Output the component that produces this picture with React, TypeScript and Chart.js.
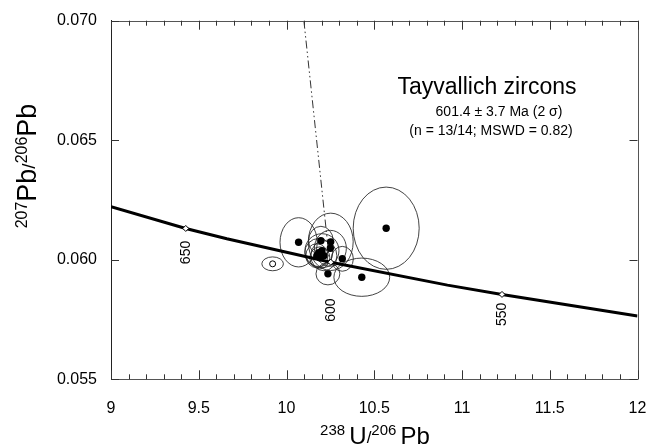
import React, { useEffect, useRef } from 'react';
import { Chart, registerables } from 'chart.js';

Chart.register(...registerables);

const FONT = '"Liberation Sans", Arial, Helvetica, sans-serif';

// Axes
const xMin = 9;
const xMax = 12;
const yMin = 0.055;
const yMax = 0.07;
const xLabelStep = 0.5;
const xMinorStep = 0.1;
const yStep = 0.005;

// Concordia curve (238U/206Pb vs 207Pb/206Pb)
const concordiaX = [9.0, 9.426, 9.66, 10.252, 10.917, 11.228, 12.0];
const concordiaY = [0.06222, 0.06131, 0.06088, 0.0599, 0.05894, 0.05855, 0.05765];

// Age markers on the concordia (Ma)
const ageLabels = ['650', '600', '550'];
const ageX = [9.426, 10.252, 11.228];
const ageY = [0.06131, 0.0599, 0.05855];

// Discordia (common-Pb line)
const discordiaX = [10.099, 10.245];
const discordiaY = [0.07, 0.05995];

// Analyses: centre and ellipse half-axes
const spotX = [10.568, 10.069, 9.921, 10.429, 10.236, 10.318, 10.252, 10.196, 10.184, 10.202, 10.173, 10.213, 10.19, 10.25];
const spotY = [0.06132, 0.06073, 0.05983, 0.05927, 0.05941, 0.06004, 0.06075, 0.0608, 0.0603, 0.06038, 0.06017, 0.06017, 0.06008, 0.06048];
const spotSX = [0.188, 0.106, 0.0615, 0.159, 0.068, 0.063, 0.128, 0.07, 0.08, 0.097, 0.063, 0.074, 0.057, 0.091];
const spotSY = [0.00172, 0.00103, 0.00029, 0.0008, 0.00046, 0.00052, 0.0012, 0.0006, 0.00059, 0.00071, 0.0005, 0.00063, 0.00046, 0.00075];
const spotUsed = [true, true, false, true, true, true, true, true, true, true, true, true, true, true];

// Annotation text
const titleText = 'Tayvallich zircons';
const ageText = '601.4 \u00B1 3.7 Ma (2 \u03C3)';
const statsText = '(n = 13/14; MSWD = 0.82)';

type Part = { t: string; size: number; raise: number };

function drawRich(ctx: CanvasRenderingContext2D, parts: Part[], cx: number, cy: number) {
  let total = 0;
  const widths: number[] = [];
  for (const p of parts) {
    ctx.font = `${p.size}px ${FONT}`;
    const w = ctx.measureText(p.t).width;
    widths.push(w);
    total += w;
  }
  let x = cx - total / 2;
  ctx.textAlign = 'left';
  ctx.textBaseline = 'alphabetic';
  parts.forEach((p, i) => {
    ctx.font = `${p.size}px ${FONT}`;
    ctx.fillText(p.t, x, cy - p.raise);
    x += widths[i];
  });
}

export default function App() {
  const ref = useRef<HTMLCanvasElement>(null);

  useEffect(() => {
    const canvas = ref.current;
    if (!canvas) return;

    const ellipsePlugin = {
      id: 'ellipses',
      beforeDatasetsDraw(chart: any) {
        const { ctx, chartArea, scales } = chart;
        const xs = scales.x;
        const ys = scales.y;
        ctx.save();
        ctx.beginPath();
        ctx.rect(chartArea.left, chartArea.top, chartArea.right - chartArea.left, chartArea.bottom - chartArea.top);
        ctx.clip();
        ctx.strokeStyle = '#222';
        ctx.lineWidth = 0.85;
        for (let i = 0; i < spotX.length; i++) {
          const cx = xs.getPixelForValue(spotX[i]);
          const cy = ys.getPixelForValue(spotY[i]);
          const rx = Math.abs(xs.getPixelForValue(spotX[i] + spotSX[i]) - cx);
          const ry = Math.abs(ys.getPixelForValue(spotY[i] + spotSY[i]) - cy);
          ctx.beginPath();
          ctx.ellipse(cx, cy, rx, ry, 0, 0, Math.PI * 2);
          ctx.stroke();
        }
        ctx.restore();
      },
    };

    const decorPlugin = {
      id: 'decor',
      afterDraw(chart: any) {
        const { ctx, chartArea, scales } = chart;
        const xs = scales.x;
        const ys = scales.y;
        const { left, right, top, bottom } = chartArea;
        ctx.save();
        // frame top & right
        ctx.strokeStyle = '#555';
        ctx.lineWidth = 1;
        ctx.beginPath();
        ctx.moveTo(left, Math.round(top) + 0.5);
        ctx.lineTo(Math.round(right) + 0.5, Math.round(top) + 0.5);
        ctx.lineTo(Math.round(right) + 0.5, bottom);
        ctx.stroke();
        // x ticks (inward, bottom and top)
        ctx.strokeStyle = '#333';
        const nMinor = Math.round((xMax - xMin) / xMinorStep);
        for (let i = 0; i <= nMinor; i++) {
          const v = xMin + i * xMinorStep;
          const major = Math.abs(v / xLabelStep - Math.round(v / xLabelStep)) < 1e-6;
          const len = major ? 9 : 5;
          const px = Math.round(xs.getPixelForValue(v)) + 0.5;
          ctx.beginPath();
          ctx.moveTo(px, bottom);
          ctx.lineTo(px, bottom - len);
          ctx.moveTo(px, top);
          ctx.lineTo(px, top + len);
          ctx.stroke();
        }
        // y ticks (inward, left and right)
        const nY = Math.round((yMax - yMin) / yStep);
        for (let i = 0; i <= nY; i++) {
          const v = yMin + i * yStep;
          const py = Math.round(ys.getPixelForValue(v)) + 0.5;
          ctx.beginPath();
          ctx.moveTo(left, py);
          ctx.lineTo(left + 8, py);
          ctx.moveTo(right, py);
          ctx.lineTo(right - 8, py);
          ctx.stroke();
        }
        // age labels on concordia (rotated)
        const ageLabelGap = [24, 48, 20];
        ctx.fillStyle = '#000';
        ctx.font = `14px ${FONT}`;
        ctx.textAlign = 'center';
        ctx.textBaseline = 'middle';
        for (let i = 0; i < ageLabels.length; i++) {
          const px = xs.getPixelForValue(ageX[i]);
          const py = ys.getPixelForValue(ageY[i]) + ageLabelGap[i];
          ctx.save();
          ctx.translate(px, py);
          ctx.rotate(-Math.PI / 2);
          ctx.fillText(ageLabels[i], 0, 0);
          ctx.restore();
        }
        // annotation
        ctx.font = `23px ${FONT}`;
        ctx.fillText(titleText, 487, 88);
        ctx.font = `14px ${FONT}`;
        ctx.fillText(ageText, 499, 112);
        ctx.fillText(statsText, 491, 131);
        // axis titles
        ctx.save();
        ctx.translate(36, 166);
        ctx.rotate(-Math.PI / 2);
        drawRich(ctx, [
          { t: '207', size: 16, raise: 9 },
          { t: 'Pb', size: 27, raise: 0 },
          { t: '/', size: 19, raise: 1 },
          { t: '206', size: 16, raise: 9 },
          { t: 'Pb', size: 27, raise: 0 },
        ], 0, 0);
        ctx.restore();
        drawRich(ctx, [
          { t: '238 ', size: 15, raise: 9 },
          { t: 'U', size: 24, raise: 0 },
          { t: '/', size: 17, raise: 1 },
          { t: '206 ', size: 15, raise: 9 },
          { t: 'Pb', size: 24, raise: 0 },
        ], 375, 444);
        ctx.restore();
      },
    };

    const pts = (xa: number[], ya: number[]) => xa.map((x, i) => ({ x, y: ya[i] }));

    const chart = new Chart(canvas, {
      type: 'scatter',
      data: {
        datasets: [
          {
            data: pts(spotX.filter((_, i) => spotUsed[i]), spotY.filter((_, i) => spotUsed[i])),
            pointRadius: 3.7,
            pointBackgroundColor: '#000',
            pointBorderColor: '#000',
            pointBorderWidth: 0,
            order: 0,
          },
          {
            data: pts(spotX.filter((_, i) => !spotUsed[i]), spotY.filter((_, i) => !spotUsed[i])),
            pointRadius: 3,
            pointBackgroundColor: '#fff',
            pointBorderColor: '#000',
            pointBorderWidth: 1,
            order: 1,
          },
          {
            data: pts(ageX, ageY),
            pointStyle: 'rectRot',
            pointRadius: 3,
            pointBackgroundColor: '#fff',
            pointBorderColor: '#000',
            pointBorderWidth: 1,
            order: 2,
          },
          {
            data: pts(concordiaX, concordiaY),
            showLine: true,
            borderColor: '#000',
            borderWidth: 3,
            pointRadius: 0,
            order: 3,
          },
          {
            data: pts(discordiaX, discordiaY),
            showLine: true,
            borderColor: '#333',
            borderWidth: 1,
            borderDash: [8, 3, 1.5, 3, 1.5, 3],
            pointRadius: 0,
            order: 4,
          },
        ],
      },
      options: {
        animation: false,
        responsive: true,
        maintainAspectRatio: false,
        events: [],
        layout: { padding: { top: 20.7, right: 10.5, left: 0, bottom: 0 } },
        plugins: { legend: { display: false }, tooltip: { enabled: false } },
        scales: {
          x: {
            type: 'linear',
            min: xMin,
            max: xMax,
            afterFit: (s: any) => { s.height = 68.7; s.paddingLeft = 0; s.paddingRight = 0; },
            grid: { display: false, drawTicks: false },
            border: { display: true, color: '#555', width: 1 },
            ticks: {
              stepSize: xLabelStep,
              autoSkip: false,
              maxRotation: 0,
              padding: 20,
              color: '#000',
              font: { family: FONT, size: 16 },
              callback: (v: any) => String(Number(Number(v).toFixed(1))),
            },
          },
          y: {
            type: 'linear',
            min: yMin,
            max: yMax,
            afterFit: (s: any) => { s.width = 111; s.paddingTop = 0; s.paddingBottom = 0; },
            grid: { display: false, drawTicks: false },
            border: { display: true, color: '#222', width: 1 },
            ticks: {
              stepSize: yStep,
              padding: 14,
              color: '#000',
              font: { family: FONT, size: 16 },
              callback: (v: any) => Number(v).toFixed(3),
            },
          },
        },
      },
      plugins: [ellipsePlugin, decorPlugin],
    } as any);

    return () => chart.destroy();
  }, []);

  return (
    <div style={{ position: 'fixed', left: 0, top: 0, width: 648, height: 448, background: '#fff' }}>
      <canvas ref={ref} />
    </div>
  );
}
